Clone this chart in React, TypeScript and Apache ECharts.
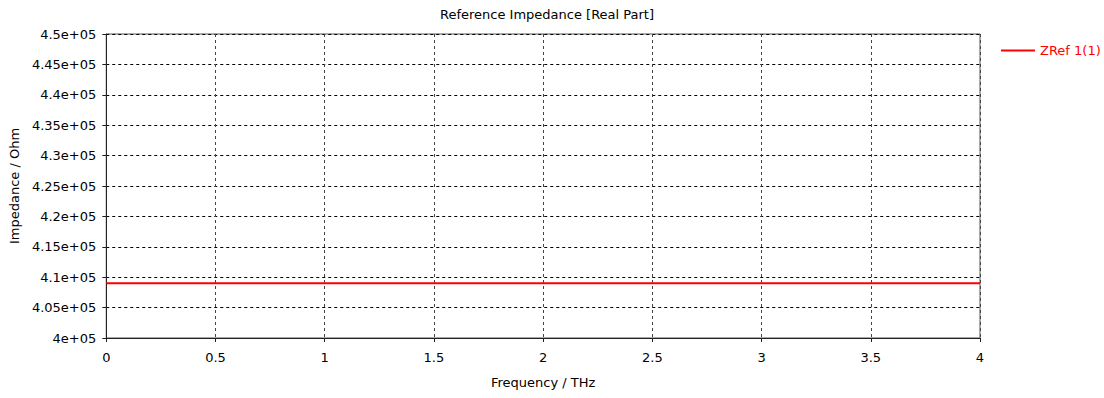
import React, { useEffect, useRef } from "react";
import * as echarts from "echarts";

const frequencyTHz = [0, 0.5, 1, 1.5, 2, 2.5, 3, 3.5, 4];
const zrefReal = [409000, 409000, 409000, 409000, 409000, 409000, 409000, 409000, 409000];
const seriesName = "ZRef 1(1)";
const titleText = "Reference Impedance [Real Part]";
const xName = "Frequency / THz";
const yName = "Impedance / Ohm";

const FONT = "DejaVu Sans";
const FS = 13;

function fmtY(v: number): string {
  const m = parseFloat((v / 1e5).toFixed(3));
  return `${m}e+05`;
}

export default function App() {
  const ref = useRef<HTMLDivElement>(null);
  useEffect(() => {
    if (!ref.current) return;
    const chart = echarts.init(ref.current, undefined, { renderer: "svg" });
    chart.setOption({
      animation: false,
      backgroundColor: "#ffffff",
      textStyle: { fontFamily: FONT },
      title: {
        text: titleText,
        left: 542,
        textAlign: "center",
        top: 3,
        textStyle: { fontFamily: FONT, fontSize: FS, fontWeight: "normal", color: "#000" },
      },
      legend: {
        left: 996,
        top: 39,
        icon: "rect",
        itemWidth: 34,
        itemHeight: 2,
        itemGap: 6,
        textStyle: { fontFamily: FONT, fontSize: FS, color: "#ff0000" },
        data: [seriesName],
      },
      grid: {
        left: 105,
        right: 124,
        top: 34,
        bottom: 60,
        show: true,
        borderColor: "#555",
        borderWidth: 1,
        containLabel: false,
      },
      xAxis: {
        type: "value",
        min: 0,
        max: 4,
        interval: 0.5,
        name: xName,
        nameLocation: "middle",
        nameGap: 38,
        nameTextStyle: { fontFamily: FONT, fontSize: FS, color: "#000" },
        axisLine: { show: true, onZero: false, lineStyle: { color: "#222", width: 1 } },
        axisTick: { show: true, length: 4, lineStyle: { color: "#222" } },
        axisLabel: { fontFamily: FONT, fontSize: FS, color: "#000", margin: 13 },
        splitLine: { show: true, lineStyle: { color: "#444", type: [3, 3], width: 1 } },
      },
      yAxis: {
        type: "value",
        min: 400000,
        max: 450000,
        interval: 5000,
        name: yName,
        nameLocation: "middle",
        nameGap: 81,
        nameTextStyle: { fontFamily: FONT, fontSize: FS, color: "#000" },
        axisLine: { show: true, onZero: false, lineStyle: { color: "#222", width: 1 } },
        axisTick: { show: true, length: 4, lineStyle: { color: "#222" } },
        axisLabel: { fontFamily: FONT, fontSize: FS, color: "#000", margin: 10, formatter: fmtY },
        splitLine: { show: true, lineStyle: { color: "#000", type: [3, 3], width: 1 } },
      },
      series: [
        {
          name: seriesName,
          type: "line",
          data: frequencyTHz.map((f, i) => [f, zrefReal[i]]),
          showSymbol: false,
          symbol: "none",
          lineStyle: { color: "#ff0000", width: 2 },
          itemStyle: { color: "#ff0000" },
        },
      ],
    });
    return () => chart.dispose();
  }, []);
  return (
    <div
      ref={ref}
      style={{ position: "fixed", left: 0, top: 0, width: 1104, height: 398, background: "#fff" }}
    />
  );
}
